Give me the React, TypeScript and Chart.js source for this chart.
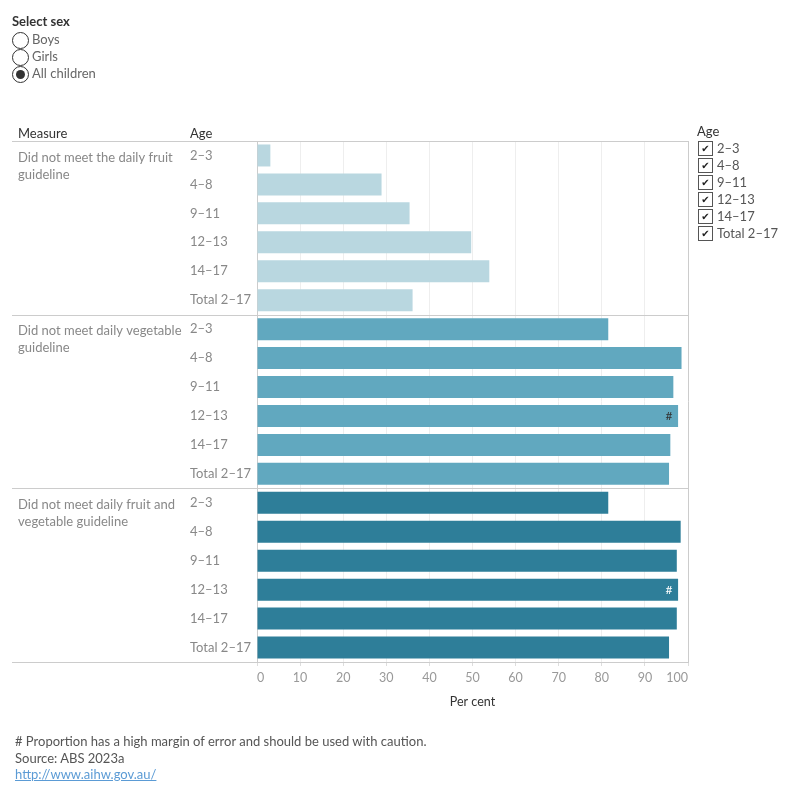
import React, { useEffect, useRef } from "react";
import { Chart, registerables } from "chart.js";

Chart.register(...registerables);

const FONT = "Lato, 'Noto Sans', sans-serif";

const measureLines: string[][] = [
  ["Did not meet the daily fruit", "guideline"],
  ["Did not meet daily vegetable", "guideline"],
  ["Did not meet daily fruit and", "vegetable guideline"],
];
const ageGroups = ["2–3", "4–8", "9–11", "12–13", "14–17", "Total 2–17"];
const fruitValues = [3.1, 28.9, 35.4, 49.7, 53.9, 36.1];
const vegetableValues = [81.5, 98.5, 96.6, 97.7, 95.9, 95.6];
const bothValues = [81.5, 98.3, 97.4, 97.7, 97.4, 95.6];
const fruitFlags = [false, false, false, false, false, false];
const vegetableFlags = [false, false, false, true, false, false];
const bothFlags = [false, false, false, true, false, false];
const groupColors = ["#b9d7e0", "#61a8bf", "#2e7e99"];
const hashColors = ["#333333", "#333333", "#ffffff"];
const xTickValues = [0, 10, 20, 30, 40, 50, 60, 70, 80, 90, 100];
const sexOptions = ["Boys", "Girls", "All children"];
const selectedSex = "All children";

const groupValues = [fruitValues, vegetableValues, bothValues];
const groupFlags = [fruitFlags, vegetableFlags, bothFlags];

export default function App() {
  const ref = useRef<HTMLCanvasElement | null>(null);

  useEffect(() => {
    const canvas = ref.current;
    if (!canvas) return;
    const labels: string[] = [];
    const data: number[] = [];
    const colors: string[] = [];
    const flags: boolean[] = [];
    const flagColors: string[] = [];
    groupValues.forEach((vals, g) => {
      vals.forEach((v, i) => {
        labels.push(ageGroups[i]);
        data.push(v);
        colors.push(groupColors[g]);
        flags.push(groupFlags[g][i]);
        flagColors.push(hashColors[g]);
      });
    });

    const framePlugin = {
      id: "frame",
      afterDraw(chart: any) {
        const { ctx, chartArea, scales } = chart;
        const y = scales.y;
        const n = ageGroups.length;
        ctx.save();
        ctx.strokeStyle = "#cccccc";
        ctx.lineWidth = 1;
        for (let g = 0; g <= groupValues.length; g++) {
          let py: number;
          if (g === 0) py = chartArea.top;
          else if (g === groupValues.length) py = chartArea.bottom;
          else py = (y.getPixelForValue(g * n - 1) + y.getPixelForValue(g * n)) / 2;
          py = Math.round(py) + 0.5;
          ctx.beginPath();
          ctx.moveTo(12, py);
          ctx.lineTo(chartArea.right, py);
          ctx.stroke();
        }
        ctx.beginPath();
        ctx.moveTo(Math.round(chartArea.right) + 0.5, chartArea.top);
        ctx.lineTo(Math.round(chartArea.right) + 0.5, chartArea.bottom);
        ctx.stroke();

        ctx.fillStyle = "#333333";
        ctx.font = `13px ${FONT}`;
        ctx.textBaseline = "middle";
        ctx.textAlign = "left";
        ctx.fillText("Measure", 18, chartArea.top - 7);
        ctx.fillText("Age", 190, chartArea.top - 7);

        ctx.fillStyle = "#888888";
        measureLines.forEach((lines, g) => {
          const base = y.getPixelForValue(g * n) + 2;
          lines.forEach((t, li) => ctx.fillText(t, 18, base + li * 17));
        });

        const meta = chart.getDatasetMeta(0);
        ctx.font = `12px ${FONT}`;
        ctx.textAlign = "center";
        meta.data.forEach((bar: any, i: number) => {
          if (!flags[i]) return;
          ctx.fillStyle = flagColors[i];
          ctx.fillText("#", bar.x - 9, bar.y + 0.5);
        });
        ctx.restore();
      },
    };

    const chart = new Chart(canvas, {
      type: "bar",
      data: {
        labels,
        datasets: [
          {
            data,
            backgroundColor: colors,
            barPercentage: 0.76,
            categoryPercentage: 1,
          },
        ],
      },
      options: {
        indexAxis: "y",
        animation: false,
        responsive: false,
        layout: { padding: { left: 190, top: 141, right: 112, bottom: 88 } },
        plugins: { legend: { display: false }, tooltip: { enabled: false } },
        scales: {
          x: {
            min: 0,
            max: 100,
            afterFit(scale: any) {
              scale.height = 50;
            },
            afterBuildTicks(scale: any) {
              scale.ticks = xTickValues.map((v) => ({ value: v }));
            },
            grid: { color: "#eeeeee", tickColor: "#dddddd", tickLength: 4 },
            border: { color: "#cccccc" },
            ticks: {
              align: "inner",
              color: "#999999",
              padding: 4,
              maxRotation: 0,
              font: { family: FONT, size: 12.5 },
            },
            title: {
              display: true,
              text: "Per cent",
              color: "#333333",
              font: { family: FONT, size: 12.5 },
              padding: { top: 4, bottom: 3 },
            },
          },
          y: {
            afterFit(scale: any) {
              scale.width = 67;
            },
            grid: { display: false },
            border: { display: true, color: "#cccccc" },
            ticks: {
              crossAlign: "far",
              color: "#888888",
              autoSkip: false,
              font: { family: FONT, size: 13 },
            },
          },
        },
      },
      plugins: [framePlugin],
    } as any);
    return () => chart.destroy();
  }, []);

  const textStyle: React.CSSProperties = {
    position: "absolute",
    fontFamily: FONT,
    fontSize: 13,
    lineHeight: "15px",
    whiteSpace: "nowrap",
  };

  return (
    <div style={{ position: "absolute", left: 0, top: 0, width: 800, height: 800, background: "#fff" }}>
      <canvas ref={ref} width={800} height={800} style={{ position: "absolute", left: 0, top: 0 }} />
      <div style={{ ...textStyle, left: 12, top: 14, fontWeight: 700, color: "#333" }}>Select sex</div>
      {sexOptions.map((s, i) => (
        <React.Fragment key={s}>
          <div
            style={{
              position: "absolute",
              left: 12,
              top: 32 + i * 17,
              width: 15,
              height: 15,
              borderRadius: "50%",
              border: "1px solid #333",
              background: "#fff",
            }}
          >
            {s === selectedSex && (
              <div
                style={{
                  position: "absolute",
                  left: 3,
                  top: 3,
                  width: 9,
                  height: 9,
                  borderRadius: "50%",
                  background: "#333",
                }}
              />
            )}
          </div>
          <div style={{ ...textStyle, left: 32, top: 32 + i * 17, color: "#666" }}>{s}</div>
        </React.Fragment>
      ))}

      <div style={{ ...textStyle, left: 697, top: 124, color: "#333" }}>Age</div>
      {ageGroups.map((a, i) => (
        <React.Fragment key={a}>
          <div
            style={{
              position: "absolute",
              left: 698,
              top: 141 + i * 17,
              width: 13,
              height: 13,
              border: "1px solid #555",
              background: "#fff",
              fontSize: 10,
              lineHeight: "13px",
              textAlign: "center",
              color: "#222",
              fontFamily: "DejaVu Sans, sans-serif",
            }}
          >
            ✔
          </div>
          <div style={{ ...textStyle, left: 717, top: 141 + i * 17, color: "#555" }}>{a}</div>
        </React.Fragment>
      ))}

      <div style={{ ...textStyle, left: 15, top: 734, color: "#555" }}>
        # Proportion has a high margin of error and should be used with caution.
      </div>
      <div style={{ ...textStyle, left: 15, top: 751, color: "#555" }}>Source: ABS 2023a</div>
      <div style={{ ...textStyle, left: 15, top: 767, color: "#5b9bd5", textDecoration: "underline" }}>
        http://www.aihw.gov.au/
      </div>
    </div>
  );
}
